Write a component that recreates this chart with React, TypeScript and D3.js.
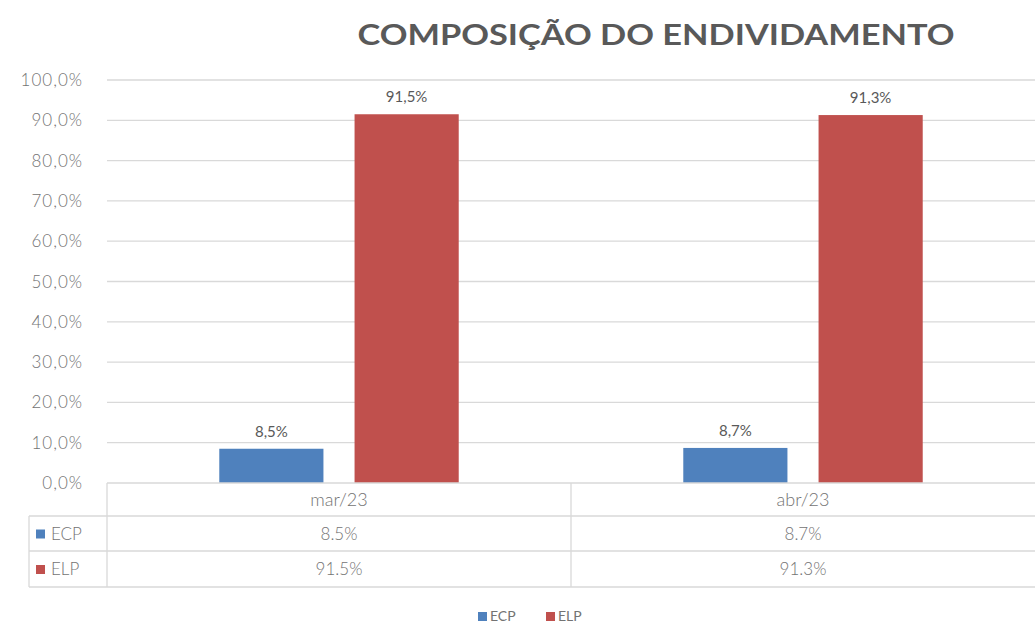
import React, { useRef, useEffect } from 'react';
import * as d3 from 'd3';

const categories = ['mar/23', 'abr/23'];
const seriesNames = ['ECP', 'ELP'];
const ecpValues = [8.5, 8.7];
const elpValues = [91.5, 91.3];
const yTicks = [0, 10, 20, 30, 40, 50, 60, 70, 80, 90, 100];
const colors = ['#4F81BD', '#C0504D'];

const App: React.FC = () => {
  const ref = useRef<SVGSVGElement>(null);

  useEffect(() => {
    const svg = d3.select(ref.current);
    svg.selectAll('*').remove();

    const left = 107;
    const right = 1035;
    const top = 80;
    const bottom = 483;
    const font = 'Lato, "Open Sans", sans-serif';
    const textColor = '#737373';
    const gridColor = '#d9d9d9';
    const series = [ecpValues, elpValues];

    // title
    svg
      .append('text')
      .attr('x', 656)
      .attr('y', 45)
      .attr('text-anchor', 'middle')
      .attr('font-family', font)
      .attr('font-weight', 'bold')
      .attr('font-size', 28)
      .attr('fill', '#595959')
      .attr('textLength', 597)
      .attr('lengthAdjust', 'spacingAndGlyphs')
      .text('COMPOSIÇÃO DO ENDIVIDAMENTO');

    const y = d3.scaleLinear().domain([0, 100]).range([bottom, top]);
    const x0 = d3.scaleBand().domain(categories).range([left, right]);
    const x1 = d3
      .scaleBand()
      .domain(seriesNames)
      .range([0, x0.bandwidth()])
      .paddingInner(0.23)
      .paddingOuter(0.83);

    // gridlines
    svg
      .append('g')
      .selectAll('line')
      .data(yTicks.filter((t) => t > 0))
      .enter()
      .append('line')
      .attr('x1', left)
      .attr('x2', right)
      .attr('y1', (d) => y(d))
      .attr('y2', (d) => y(d))
      .attr('stroke', gridColor)
      .attr('stroke-width', 1.3);

    // y labels
    svg
      .append('g')
      .selectAll('text')
      .data(yTicks)
      .enter()
      .append('text')
      .attr('x', 83)
      .attr('y', (d) => y(d) + 6)
      .attr('text-anchor', 'end')
      .attr('font-family', font)
      .attr('font-weight', 300)
      .attr('font-size', 17)
      .attr('letter-spacing', 1)
      .attr('fill', textColor)
      .text((d) => d.toFixed(1).replace('.', ',') + '%');

    // bars
    const groups = svg
      .append('g')
      .selectAll('g')
      .data(categories)
      .enter()
      .append('g')
      .attr('transform', (d) => `translate(${x0(d)},0)`);

    groups
      .selectAll('rect')
      .data((_, i) => seriesNames.map((s, j) => ({ s, v: series[j][i], j })))
      .enter()
      .append('rect')
      .attr('x', (d) => x1(d.s) || 0)
      .attr('y', (d) => y(d.v))
      .attr('width', x1.bandwidth())
      .attr('height', (d) => bottom - y(d.v))
      .attr('fill', (d) => colors[d.j]);

    groups
      .selectAll('text')
      .data((_, i) => seriesNames.map((s, j) => ({ s, v: series[j][i], j })))
      .enter()
      .append('text')
      .attr('x', (d) => (x1(d.s) || 0) + x1.bandwidth() / 2)
      .attr('y', (d) => y(d.v) - 12)
      .attr('text-anchor', 'middle')
      .attr('font-family', font)
      .attr('font-size', 15)
      .attr('fill', '#595959')
      .text((d) => d.v.toFixed(1).replace('.', ',') + '%');

    // data table
    const rowTops = [483, 516, 551, 587];
    const tableLeft = 29;
    const t = svg.append('g').attr('stroke', gridColor).attr('stroke-width', 1.3);
    t.append('line').attr('x1', left).attr('x2', right).attr('y1', rowTops[0]).attr('y2', rowTops[0]);
    rowTops.slice(1).forEach((ry) => {
      t.append('line').attr('x1', tableLeft).attr('x2', right).attr('y1', ry).attr('y2', ry);
    });
    t.append('line').attr('x1', left).attr('x2', left).attr('y1', rowTops[0]).attr('y2', rowTops[3]);
    t.append('line').attr('x1', tableLeft).attr('x2', tableLeft).attr('y1', rowTops[1]).attr('y2', rowTops[3]);
    categories.slice(1).forEach((c) => {
      const cx = x0(c) || 0;
      t.append('line').attr('x1', cx).attr('x2', cx).attr('y1', rowTops[0]).attr('y2', rowTops[3]);
    });

    svg
      .append('g')
      .selectAll('text')
      .data(categories)
      .enter()
      .append('text')
      .attr('x', (d) => (x0(d) || 0) + x0.bandwidth() / 2)
      .attr('y', 506)
      .attr('text-anchor', 'middle')
      .attr('font-family', font)
      .attr('font-weight', 300)
      .attr('font-size', 18)
      .attr('fill', textColor)
      .text((d) => d);

    seriesNames.forEach((s, j) => {
      const rowMid = (rowTops[j + 1] + rowTops[j + 2]) / 2;
      svg
        .append('rect')
        .attr('x', 36)
        .attr('y', rowMid - 4)
        .attr('width', 9)
        .attr('height', 9)
        .attr('fill', colors[j]);
      svg
        .append('text')
        .attr('x', 51)
        .attr('y', rowMid + 6)
        .attr('font-family', font)
        .attr('font-weight', 300)
        .attr('font-size', 17)
        .attr('fill', textColor)
        .text(s);
      categories.forEach((c, i) => {
        svg
          .append('text')
          .attr('x', (x0(c) || 0) + x0.bandwidth() / 2)
          .attr('y', rowMid + 6)
          .attr('text-anchor', 'middle')
          .attr('font-family', font)
          .attr('font-weight', 300)
          .attr('font-size', 17)
          .attr('fill', textColor)
          .text(series[j][i].toFixed(1) + '%');
      });
    });

    // legend
    const legendX = [478, 546];
    seriesNames.forEach((s, j) => {
      svg
        .append('rect')
        .attr('x', legendX[j])
        .attr('y', 612)
        .attr('width', 9)
        .attr('height', 9)
        .attr('fill', colors[j]);
      svg
        .append('text')
        .attr('x', legendX[j] + 12)
        .attr('y', 621)
        .attr('font-family', font)
        .attr('font-size', 14)
        .attr('fill', textColor)
        .text(s);
    });
  }, []);

  return (
    <svg
      ref={ref}
      width={1035}
      height={626}
      style={{ position: 'absolute', left: 0, top: 0, background: '#fff' }}
    ></svg>
  );
};

export default App;
